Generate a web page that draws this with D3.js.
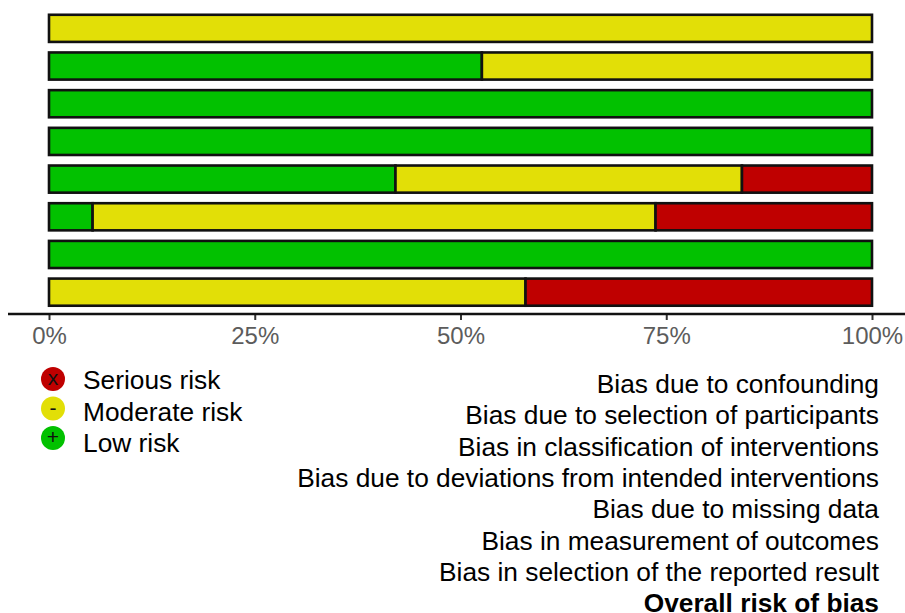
<!DOCTYPE html>
<html>
<head>
<meta charset="utf-8">
<script src="https://cdn.jsdelivr.net/npm/d3@7"></script>
<style>
  html, body { margin: 0; padding: 0; background: #fff; overflow: hidden; }
  svg { display: block; }
  text { font-family: "Liberation Sans", Arial, sans-serif; }
</style>
</head>
<body>
<svg></svg>
<script>
const domains = [
  "Bias due to confounding",
  "Bias due to selection of participants",
  "Bias in classification of interventions",
  "Bias due to deviations from intended interventions",
  "Bias due to missing data",
  "Bias in measurement of outcomes",
  "Bias in selection of the reported result",
  "Overall risk of bias"
];
const lowRisk = [0, 52.6, 100, 100, 42.1, 5.3, 100, 0];
const moderateRisk = [100, 47.4, 0, 0, 42.1, 68.4, 0, 57.9];
const seriousRisk = [0, 0, 0, 0, 15.8, 26.3, 0, 42.1];
const legendLabels = ["Serious risk", "Moderate risk", "Low risk"];
const legendSymbols = ["x", "-", "+"];
const riskColors = ["#bf0000", "#e2df07", "#02c100"];
const xTicks = [0, 25, 50, 75, 100];

const width = 905;
const height = 613;
const svg = d3.select("svg").attr("width", width).attr("height", height);

const xScale = d3.scaleLinear().domain([0, 100]).range([49, 872]);
const yScale = d3.scaleBand().domain(domains).range([9.5, 311]).paddingInner(0.28).paddingOuter(0.14);
const labelScale = d3.scalePoint().domain(domains).range([384, 603]);
const legendScale = d3.scalePoint().domain(legendLabels).range([379, 438]);
const legendTextScale = d3.scalePoint().domain(legendLabels).range([380, 443]);

// stack order left to right is low, moderate, serious
const rows = domains.map((d, i) => ({ domain: d, low: lowRisk[i], moderate: moderateRisk[i], serious: seriousRisk[i] }));
const stack = d3.stack().keys(["low", "moderate", "serious"]);
const colorOf = { low: riskColors[2], moderate: riskColors[1], serious: riskColors[0] };

const layers = svg.selectAll("g.layer").data(stack(rows)).enter().append("g")
  .attr("class", "layer")
  .attr("fill", d => colorOf[d.key]);

layers.selectAll("rect").data(d => d.filter(s => s[1] > s[0])).enter().append("rect")
  .attr("x", d => xScale(d[0]))
  .attr("y", d => yScale(d.data.domain))
  .attr("width", d => xScale(d[1]) - xScale(d[0]))
  .attr("height", yScale.bandwidth())
  .attr("stroke", "#111")
  .attr("stroke-width", 2.6);

const xAxis = d3.axisBottom(xScale).tickValues(xTicks).tickFormat(d => d + "%").tickSize(6).tickPadding(7);
const axisG = svg.append("g").attr("transform", "translate(0,314)").call(xAxis);
axisG.select(".domain").remove();
axisG.append("line").attr("x1", 8).attr("x2", 905).attr("stroke", "#111").attr("stroke-width", 2.4);
axisG.selectAll(".tick line").attr("stroke", "#333").attr("stroke-width", 2);
axisG.selectAll(".tick text").attr("fill", "#5c5c5c").attr("font-size", 24);

svg.append("g").selectAll("text").data(domains).enter().append("text")
  .attr("x", 879)
  .attr("y", d => labelScale(d))
  .attr("dy", "0.35em")
  .attr("text-anchor", "end")
  .attr("font-size", 26.3)
  .attr("font-weight", (d, i) => i === domains.length - 1 ? "bold" : "normal")
  .attr("fill", "#000")
  .text(d => d);

const legend = svg.append("g");
legend.selectAll("circle").data(legendLabels).enter().append("circle")
  .attr("cx", 53)
  .attr("cy", d => legendScale(d))
  .attr("r", 12)
  .attr("fill", (d, i) => riskColors[i]);
legend.selectAll("text.symbol").data(legendLabels).enter().append("text")
  .attr("class", "symbol")
  .attr("x", 53)
  .attr("y", d => legendScale(d))
  .attr("text-anchor", "middle")
  .attr("dy", "0.3em")
  .attr("font-size", 21)
  .attr("fill", "#111")
  .text((d, i) => legendSymbols[i]);
legend.selectAll("text.name").data(legendLabels).enter().append("text")
  .attr("class", "name")
  .attr("x", 83)
  .attr("y", d => legendTextScale(d))
  .attr("dy", "0.35em")
  .attr("font-size", 26.3)
  .attr("fill", "#000")
  .text(d => d);
</script>
</body>
</html>
